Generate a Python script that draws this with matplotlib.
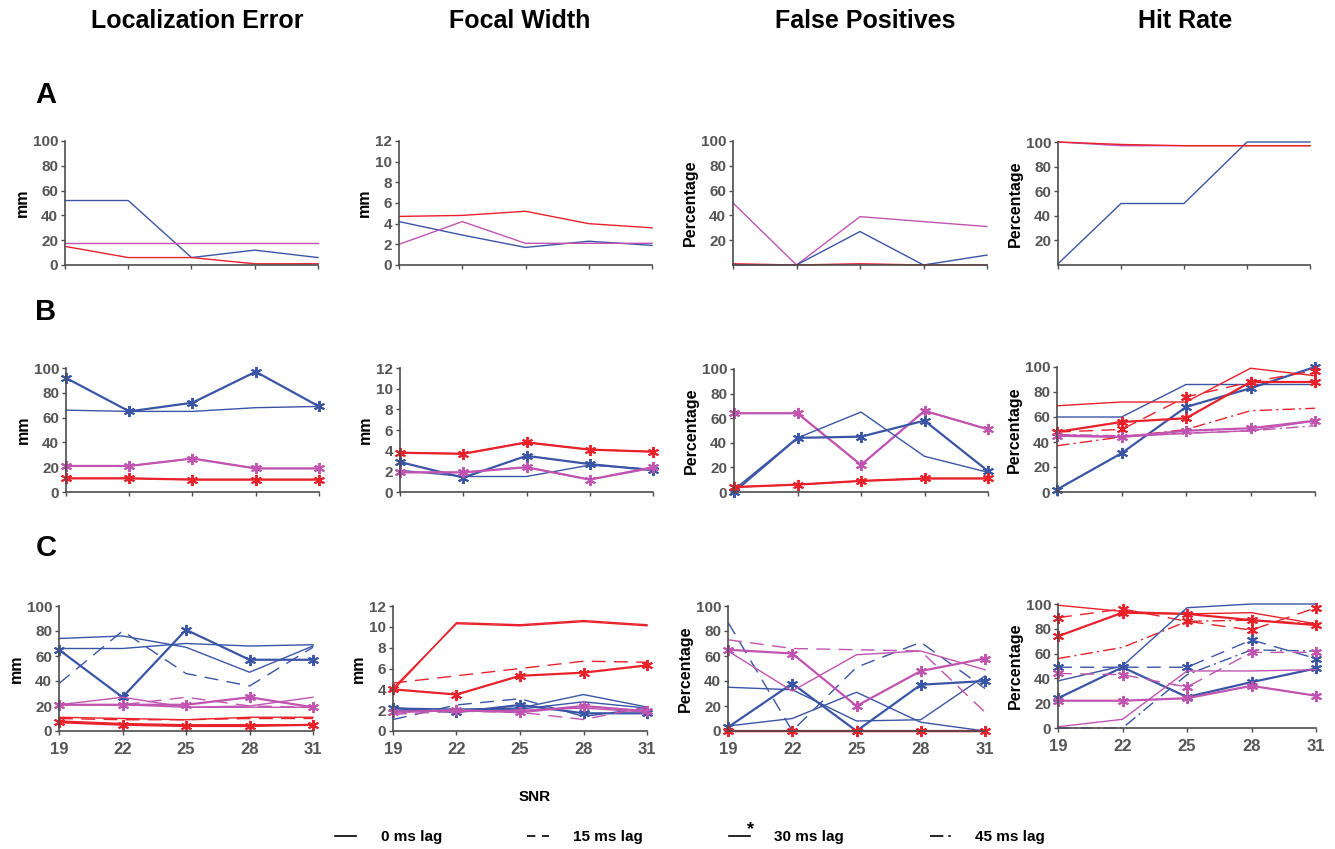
import numpy as np
import matplotlib.pyplot as plt
from matplotlib.lines import Line2D
import matplotlib

matplotlib.rcParams.update({'font.family': 'Liberation Sans', 'font.weight': 'bold'})

snr = [19, 22, 25, 28, 31]

titles = ['Localization Error', 'Focal Width', 'False Positives', 'Hit Rate']
rows = ['A', 'B', 'C']
lags = ['0 ms lag', '15 ms lag', '30 ms lag', '45 ms lag']

# (group, lag key, values); key 4 = dashed trace that also carries star markers
loc_a = [('blue', 0, [52, 52, 6, 12, 6]),
         ('magenta', 0, [18, 18, 18, 18, 18]),
         ('red', 0, [15, 6, 6, 1, 1])]
foc_a = [('red', 0, [4.7, 4.8, 5.2, 4.0, 3.6]),
         ('blue', 0, [4.2, 2.9, 1.7, 2.3, 1.9]),
         ('magenta', 0, [2.0, 4.2, 2.1, 2.1, 2.1])]
fp_a = [('magenta', 0, [50, 0, 39, 35, 31]),
        ('blue', 0, [0, 0, 27, 0, 8]),
        ('red', 0, [1, 0, 1, 0, 0])]
hr_a = [('blue', 0, [1, 50, 50, 100, 100]),
        ('magenta', 0, [100, 97, 97, 97, 97]),
        ('red', 0, [100, 98, 97, 97, 97])]

loc_b = [('blue', 0, [66, 65, 65, 68, 69]),
         ('blue', 2, [92, 65, 72, 97, 69]),
         ('magenta', 0, [21, 21, 27, 19, 19]),
         ('magenta', 2, [21, 21, 27, 19, 19]),
         ('red', 0, [11, 11, 10, 10, 10]),
         ('red', 2, [11, 11, 10, 10, 10])]
foc_b = [('red', 0, [3.8, 3.7, 4.8, 4.1, 3.9]),
         ('red', 2, [3.8, 3.7, 4.8, 4.1, 3.9]),
         ('blue', 0, [2.1, 1.5, 1.5, 2.6, 2.2]),
         ('blue', 2, [2.9, 1.4, 3.5, 2.7, 2.1]),
         ('magenta', 0, [1.9, 1.9, 2.4, 1.2, 2.3]),
         ('magenta', 2, [1.9, 1.9, 2.4, 1.2, 2.4])]
fp_b = [('magenta', 0, [64, 64, 22, 66, 51]),
        ('magenta', 2, [64, 64, 22, 66, 51]),
        ('blue', 0, [2, 44, 65, 29, 16]),
        ('blue', 2, [0, 44, 45, 58, 17]),
        ('red', 0, [4, 6, 9, 11, 11]),
        ('red', 2, [4, 6, 9, 11, 11])]
hr_b = [('blue', 0, [60, 60, 86, 86, 86]),
        ('blue', 2, [2, 31, 68, 83, 100]),
        ('red', 0, [69, 72, 72, 99, 93]),
        ('red', 2, [48, 56, 59, 88, 88]),
        ('red', 4, [48, 50, 76, 88, 97]),
        ('red', 3, [37, 44, 50, 65, 67]),
        ('magenta', 2, [45, 44, 49, 51, 57]),
        ('magenta', 0, [46, 44, 47, 49, 57]),
        ('magenta', 3, [46, 45, 47, 49, 53])]

loc_c = [('blue', 0, [74, 76, 67, 47, 68]),
         ('blue', 0, [66, 66, 70, 68, 69]),
         ('blue', 2, [65, 27, 81, 57, 57]),
         ('blue', 1, [38, 80, 46, 36, 67]),
         ('magenta', 2, [21, 21, 21, 27, 19]),
         ('magenta', 0, [21, 27, 19, 20, 27]),
         ('magenta', 1, [21, 21, 27, 20, 19]),
         ('magenta', 0, [21, 21, 19, 19, 19]),
         ('red', 0, [11, 10, 9, 11, 11]),
         ('red', 1, [10, 9, 9, 10, 10]),
         ('red', 2, [7, 5, 4, 4, 5]),
         ('red', 0, [8, 6, 5, 5, 5])]
foc_c = [('red', 0, [3.9, 10.4, 10.2, 10.6, 10.2]),
         ('red', 0, [4.1, 10.3, 10.1, 10.5, 10.1]),
         ('red', 1, [4.6, 5.3, 6.0, 6.7, 6.6]),
         ('red', 2, [4.0, 3.5, 5.3, 5.6, 6.3]),
         ('blue', 0, [2.2, 2.1, 2.2, 3.5, 2.3]),
         ('blue', 2, [2.2, 1.8, 2.5, 1.7, 1.7]),
         ('blue', 1, [1.1, 2.5, 3.1, 1.4, 2.2]),
         ('blue', 0, [2.0, 2.0, 2.1, 2.8, 2.2]),
         ('magenta', 2, [1.8, 2.0, 1.8, 2.4, 1.9]),
         ('magenta', 1, [1.6, 1.9, 1.8, 1.1, 2.3]),
         ('magenta', 0, [1.9, 1.9, 2.0, 2.2, 1.8])]
fp_c = [('blue', 1, [87, 0, 51, 71, 34]),
        ('blue', 0, [35, 33, 8, 9, 44]),
        ('blue', 0, [4, 10, 31, 7, 0]),
        ('blue', 2, [3, 38, 0, 37, 40]),
        ('magenta', 2, [65, 62, 20, 48, 58]),
        ('magenta', 0, [64, 32, 61, 64, 49]),
        ('magenta', 1, [73, 66, 65, 64, 15]),
        ('red', 0, [0, 0, 0, 0, 0]),
        ('red', 2, [0, 0, 0, 0, 0])]
hr_c = [('red', 0, [99, 94, 92, 93, 84]),
        ('red', 2, [74, 93, 92, 87, 83]),
        ('red', 4, [89, 96, 86, 79, 97]),
        ('red', 3, [56, 65, 86, 87, 84]),
        ('blue', 0, [38, 50, 97, 100, 100]),
        ('blue', 2, [24, 49, 25, 37, 48]),
        ('blue', 4, [49, 49, 49, 71, 56]),
        ('blue', 3, [0, 0, 43, 63, 62]),
        ('magenta', 4, [44, 43, 33, 61, 61]),
        ('magenta', 2, [22, 22, 24, 34, 26]),
        ('magenta', 0, [1, 7, 46, 46, 47])]

panels = [[loc_a, foc_a, fp_a, hr_a],
          [loc_b, foc_b, fp_b, hr_b],
          [loc_c, foc_c, fp_c, hr_c]]

colors = {'blue': '#3a55a6', 'magenta': '#c054b0', 'red': '#e8212b'}
star = (6, 2, 0)
lag_style = {0: dict(ls='-', marker=None, lw=1.0),
             1: dict(ls=(0, (10, 6)), marker=None, lw=1.0),
             2: dict(ls='-', marker=star, lw=1.6),
             3: dict(ls=(0, (9, 3, 1.5, 3)), marker=None, lw=1.0),
             4: dict(ls=(0, (10, 6)), marker=star, lw=1.0)}

W, H = 1335, 849
# pixel boxes (left, right, top, bottom) per row
boxes = [[(65, 318, 141, 265), (399, 652, 141, 265), (733, 987, 141, 265), (1058, 1310, 142, 265)],
         [(66, 319, 368, 492), (400, 653, 368, 492), (734, 988, 369, 492), (1057, 1315, 367, 492)],
         [(59, 313, 606, 731), (393, 647, 606, 731), (728, 985, 606, 731), (1058, 1316, 604, 728)]]

grey = '#4d4d4d'
fig = plt.figure(figsize=(W / 100, H / 100), dpi=100)

for r in range(3):
    for c in range(4):
        l, rr, t, b = boxes[r][c]
        ax = fig.add_axes([l / W, 1 - b / H, (rr - l) / W, (b - t) / H])
        for grp, lag, vals in panels[r][c]:
            st = lag_style[lag]
            ax.plot(snr, vals, color=colors[grp], linestyle=st['ls'], lw=st['lw'],
                    marker=st['marker'], markersize=8, markeredgewidth=1.4, clip_on=False)
        ax.set_xlim(19, 31)
        ax.set_xticks(snr)
        if c == 1:
            ax.set_ylim(0, 12)
            ax.set_yticks(range(0, 13, 2))
        else:
            ax.set_ylim(0, 100)
            if r == 0 and c >= 2:
                ax.set_yticks(range(20, 101, 20))
            else:
                ax.set_yticks(range(0, 101, 20))
        for s in ['top', 'right']:
            ax.spines[s].set_visible(False)
        for s in ['left', 'bottom']:
            ax.spines[s].set_color(grey)
            ax.spines[s].set_linewidth(1.2)
        ax.tick_params(colors=grey, length=3, width=1.0)
        ax.tick_params(axis='y', labelsize=11, pad=2)
        ax.tick_params(axis='x', labelsize=12, pad=5)
        for lab in ax.get_yticklabels() + ax.get_xticklabels():
            lab.set_fontweight('bold')
            lab.set_color('#555555')
        if r < 2:
            ax.set_xticklabels([])
        ax.set_ylabel('mm' if c < 2 else 'Percentage', fontsize=11.5, fontweight='bold', labelpad=2)

title_x = [197, 520, 865, 1185]
for tx, tt in zip(title_x, titles):
    fig.text(tx / W, 1 - 21 / H, tt, ha='center', va='center', fontsize=18, fontweight='bold')
for ry, rl in zip([95, 312, 548], rows):
    fig.text(46 / W, 1 - ry / H, rl, ha='center', va='center', fontsize=21, fontweight='bold')
fig.text(535 / W, 1 - 797 / H, 'SNR', ha='center', va='center', fontsize=11, fontweight='bold')

handles = [Line2D([], [], color='black', ls='-', lw=1.2),
           Line2D([], [], color='black', ls=(0, (5, 4)), lw=1.2),
           Line2D([], [], color='black', ls='-', lw=1.2),
           Line2D([], [], color='black', ls=(0, (8, 3, 1.5, 3)), lw=1.2)]
leg = fig.legend(handles, lags, loc='center', bbox_to_anchor=(690 / W, 1 - 837 / H), ncol=4,
                 frameon=False, handlelength=1.4, columnspacing=5.6, handletextpad=1.6,
                 prop={'weight': 'bold', 'size': 11})

# asterisk of the 30 ms lag key, raised like a superscript next to its dash
fig.canvas.draw()
hl = leg.legend_handles[2]
bb = hl.get_window_extent(fig.canvas.get_renderer())
fig.text((bb.x1 - 3) / W, (bb.y0 - 2) / H, '*', ha='left', va='bottom', fontsize=13)

fig.savefig('out.png', dpi=100)
